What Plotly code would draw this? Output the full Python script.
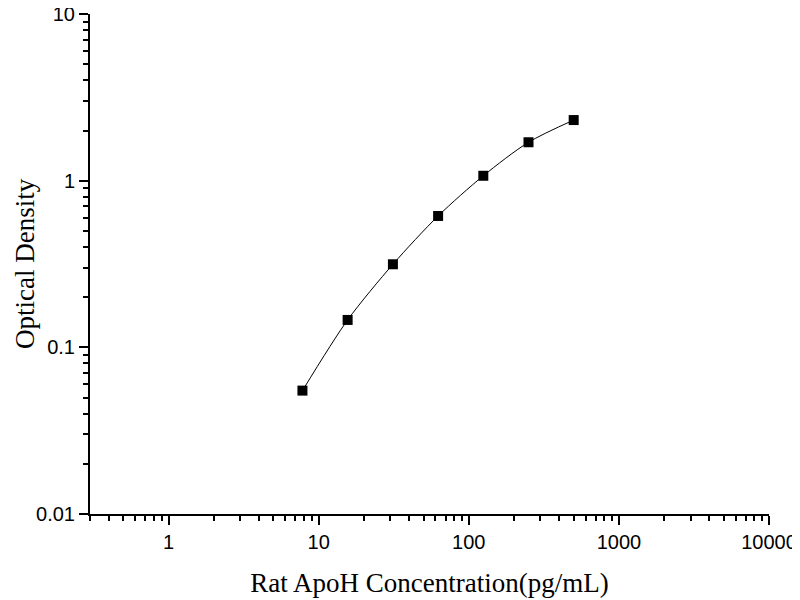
import plotly.graph_objects as go

# standard curve readings
concentration = [7.8, 15.6, 31.25, 62.5, 125, 250, 500]
optical_density = [0.055, 0.146, 0.315, 0.614, 1.07, 1.70, 2.31]

x_tick_vals = [1, 10, 100, 1000, 10000]
x_tick_text = ["1", "10", "100", "1000", "10000"]
y_tick_vals = [0.01, 0.1, 1, 10]
y_tick_text = ["0.01", "0.1", "1", "10"]

def minor_vals(lo_exp, hi_exp):
    vals = []
    for e in range(lo_exp, hi_exp):
        for m in range(2, 10):
            vals.append(m * 10 ** e)
    return vals

fig = go.Figure()

fig.add_trace(go.Scatter(
    x=concentration,
    y=optical_density,
    mode='lines',
    line=dict(color='black', width=1, shape='spline', smoothing=0.8),
    hoverinfo='skip',
    showlegend=False
))

fig.add_trace(go.Scatter(
    x=concentration,
    y=optical_density,
    mode='markers',
    marker=dict(symbol='square', size=10, color='black'),
    showlegend=False
))

axis_font = dict(family='Liberation Sans, Arial', size=20, color='black')
title_font = dict(family='Liberation Serif, Times New Roman', size=27, color='black')

fig.update_xaxes(
    type='log',
    range=[-0.523, 4],
    tickmode='array',
    tickvals=x_tick_vals,
    ticktext=x_tick_text,
    ticks='outside',
    ticklen=9,
    tickwidth=2,
    tickcolor='black',
    minor=dict(ticks='outside', ticklen=5, tickwidth=2, tickcolor='black',
               tickmode='array', tickvals=[0.3] + minor_vals(-1, 4)),
    showline=True,
    linecolor='black',
    linewidth=2,
    showgrid=False,
    zeroline=False,
    automargin=False,
    ticklabeloverflow='allow',
    tickfont=axis_font,
    title=dict(text='Rat ApoH Concentration(pg/mL)', font=title_font, standoff=21),
)

fig.update_yaxes(
    type='log',
    range=[-2, 1],
    tickmode='array',
    tickvals=y_tick_vals,
    ticktext=y_tick_text,
    ticks='outside',
    ticklen=9,
    tickwidth=2,
    tickcolor='black',
    minor=dict(ticks='outside', ticklen=5, tickwidth=2, tickcolor='black',
               tickmode='array', tickvals=minor_vals(-2, 1)),
    showline=True,
    linecolor='black',
    linewidth=2,
    showgrid=False,
    zeroline=False,
    automargin=False,
    ticklabeloverflow='allow',
    tickfont=axis_font,
)

# y title as a rotated annotation so it can sit close to the page edge
fig.add_annotation(
    text='Optical Density',
    xref='paper', yref='paper',
    x=0, y=0.5,
    xanchor='left', yanchor='middle',
    xshift=-82,
    textangle=-90,
    showarrow=False,
    font=title_font,
)

# page body adds an 8px offset, so the figure is a little smaller than the window
fig.update_layout(
    width=792,
    height=592,
    margin=dict(l=82, r=31, t=6, b=86),
    plot_bgcolor='white',
    paper_bgcolor='white',
)

fig.write_html("out.html")
